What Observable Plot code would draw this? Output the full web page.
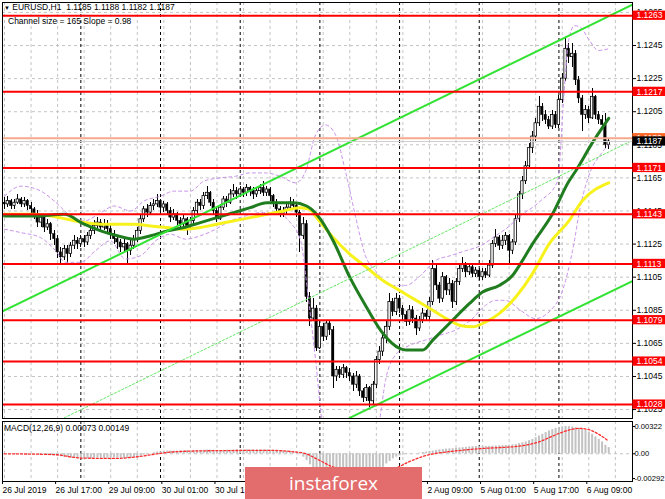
<!DOCTYPE html>
<html><head><meta charset="utf-8">
<script src="https://cdn.jsdelivr.net/npm/d3@7"></script>
<script src="https://cdn.jsdelivr.net/npm/@observablehq/plot@0.6"></script>
<style>
body{margin:0;background:#fff;}
#wrap{position:relative;width:665px;height:499px;overflow:hidden;background:#fff;font-family:"Liberation Sans",Arial,sans-serif;}
#wrap svg{display:block;max-width:none !important;}
.lbl{position:absolute;font-size:8.5px;color:#000;white-space:nowrap;line-height:10px;}
#wm{position:absolute;left:245px;top:467px;width:177px;height:34px;background:#e36c6c;color:#fff;font-family:"Open Sans",sans-serif;font-size:19px;text-align:center;line-height:32px;}
</style></head><body>
<div id="wrap">
<div id="mainBox" style="position:absolute;left:0;top:0;width:665px;height:420px;"></div>
<div id="macdBox" style="position:absolute;left:0;top:420px;width:665px;height:79px;"></div>
<div class="lbl" style="left:4px;top:2px;"><span style="font-size:6px;">&#9660;</span> EURUSD,H1&nbsp; 1.1185 1.1188 1.1182 1.1187</div>
<div class="lbl" style="left:8px;top:16px;">Channel size = 165 Slope = 0.98</div>
<div class="lbl" style="left:4px;top:423px;">MACD(12,26,9) 0.00073 0.00149</div>
<div id="wm">instaforex</div>
</div>
<script>
// ---- candle data (pips: price = 1.1 + v/10000), bar index 0 = 26 Jul 01:00 ----
const OPEN0 = 150;
const closeP = [149,151,148,150,152,149,151,148,146,143, 138,141,135,137,131,128,120,117,122,119, 124,127,125,128,126,130,133,136,138,135, 137,134,131,128,126,123,125,121,124,128, 133,140,146,144,148,149,151,147,149,145, 141,143,139,137,140,136,139,145,150,148, 154,156,150,145,140,147,152,150,155,157, 155,158,156,159,157,155,157,159,156,158, 154,150,146,143,145,147,150,148,144,130, 137,93,80,86,62,75,69,77,73,45, 49,46,50,47,45,40,45,36,32,38, 30,40,55,60,68,75,90,84,92,86, 82,78,85,80,74,79,83,81,90,110, 100,92,105,97,101,90,102,110,113,108, 111,107,109,105,108,106,112,125,129,124, 127,130,121,126,140,155,163,172,183,190, 198,208,203,200,196,203,197,212,225,243, 238,240,224,213,203,206,201,214,203,200, 197,185,187];
const highP = [153,154,152,152,155,153,153,152,150,147, 145,143,142,140,138,133,130,123,124,124, 126,130,129,130,130,132,135,139,141,140, 140,139,136,133,130,128,128,126,127,130, 135,142,148,149,150,152,155,152,151,150, 147,146,144,141,142,141,141,147,152,152, 156,160,157,152,147,149,154,154,158,161, 159,160,159,161,160,159,159,161,163,160, 159,155,152,148,147,149,153,152,150,145, 141,139,96,92,88,79,77,79,79,75, 51,51,52,51,50,47,48,46,38,40, 39,42,57,63,71,78,95,92,95,94, 88,84,88,87,82,81,86,85,93,115, 112,102,108,106,104,103,104,113,117,114, 113,112,111,110,110,110,115,127,134,130, 130,132,131,128,142,157,166,175,186,193, 201,214,210,206,202,206,205,215,228,250, 246,246,242,226,215,209,208,219,215,205, 203,204,188];
const lowP = [146,147,146,146,149,147,147,145,143,140, 135,135,132,133,127,124,116,112,115,113, 117,122,122,123,123,124,128,131,134,132, 133,131,128,125,122,120,120,113,118,122, 126,131,138,141,142,145,147,144,144,142, 138,139,136,134,135,130,133,137,143,145, 146,152,148,142,138,139,145,147,149,153, 152,153,153,154,154,152,153,155,154,154, 151,147,144,141,141,143,145,146,141,120, 128,90,75,78,60,61,66,67,70,38, 42,44,44,44,42,36,38,33,29,30, 26,28,38,52,57,65,73,81,82,83, 79,75,76,77,70,72,77,78,79,88, 97,89,90,94,94,86,88,100,108,105, 106,105,105,103,103,104,105,110,123,121, 122,124,112,119,124,138,152,161,170,180, 187,196,199,197,194,194,195,195,210,223, 234,232,221,210,193,200,198,200,200,197, 194,183,182];

// ---- indicator lines: [bar index, price] ----
const greenMA = [[0,1.1142],[9,1.1142],[18,1.1143],[24,1.1137],[29,1.1133],[34,1.1130],[39,1.1128],[44,1.1130],[49,1.1133],[54,1.1135],[59,1.1138],[64,1.1141],[69,1.1144],[74,1.1147],[79,1.1150],[84,1.1150],[87,1.1150],[91,1.1148],[94,1.1143],[99,1.1127],[104,1.1105],[109,1.1087],[114,1.1071],[119,1.1062],[121,1.1061],[126,1.1061],[129,1.1067],[134,1.1077],[140,1.1089],[144,1.1096],[149,1.1100],[153,1.1106],[156,1.1115],[159,1.1125],[165,1.1143],[170,1.1163],[172,1.1169],[177,1.1186],[182,1.1201]];
const yellowMA = [[0,1.1143],[9,1.1143],[14,1.1142],[19,1.1140],[24,1.1138],[29,1.1137],[34,1.1137],[39,1.1137],[44,1.1136],[49,1.1135],[54,1.1134],[59,1.1135],[64,1.1137],[69,1.1139],[74,1.1141],[79,1.1143],[84,1.1145],[89,1.1147],[92,1.1146],[94,1.1141],[99,1.1129],[104,1.1119],[109,1.1111],[114,1.1103],[119,1.1097],[124,1.1091],[129,1.1085],[134,1.1079],[137,1.1076],[141,1.1075],[145,1.1078],[149,1.1083],[154,1.1093],[159,1.1107],[164,1.1125],[170,1.1139],[174,1.1151],[182,1.1162]];
const bandUpper = [[0,1.1154],[5,1.1160],[11,1.1157],[15,1.1151],[20,1.1142],[24,1.1139],[29,1.1144],[33,1.1148],[38,1.1145],[42,1.1151],[47,1.1154],[51,1.1157],[56,1.1157],[60,1.1163],[65,1.1165],[69.6,1.1166],[74,1.1168],[78.6,1.1168],[83,1.1166],[87.7,1.1162],[90.7,1.1169],[93.7,1.1191],[96.7,1.1197],[99.7,1.1191],[102.7,1.1169],[105.7,1.1142],[108.7,1.1118],[111.7,1.1109],[116.3,1.1100],[120.8,1.1100],[125.3,1.1106],[129.8,1.1115],[134.3,1.1118],[138.9,1.1121],[143.4,1.1124],[147.9,1.1130],[150.9,1.1134],[155.4,1.1142],[161.4,1.1151],[166.6,1.1163],[168.4,1.1212],[169.9,1.1248],[171.7,1.1257],[173.5,1.1256],[175.9,1.1249],[178.9,1.1242],[181.9,1.1243]];
const bandLower = [[0,1.1134],[4.8,1.1132],[10.8,1.1129],[15.4,1.1121],[18.4,1.1114],[22.9,1.1114],[27.4,1.1121],[31.9,1.1127],[36.4,1.1116],[41,1.1118],[45.5,1.1127],[50,1.1131],[54.5,1.1128],[59,1.1130],[63.6,1.1134],[68.1,1.1139],[72.6,1.1142],[77.1,1.1144],[81.6,1.1144],[86.1,1.1138],[89.2,1.1127],[91.6,1.1091],[93.7,1.1055],[95.8,1.1015],[99.7,1.0988],[104.2,1.0982],[108.7,1.0994],[112.7,1.1015],[114.8,1.1043],[117.8,1.1058],[122.3,1.1064],[126.8,1.1067],[131.3,1.1070],[135.8,1.1073],[140.4,1.1079],[144.9,1.1088],[147.9,1.1091],[150.9,1.1091],[155.4,1.1085],[159.9,1.1080],[164.5,1.1085],[168.1,1.1097],[171.1,1.1121],[173.5,1.1148],[176.5,1.1169],[179.5,1.1179],[181.9,1.1185]];
const channelUpper = [[-1,1.1084],[189.5,1.1270]];
const channelMid = [[18,1.1020],[189.5,1.1188]];
const channelLower = [[104,1.1020],[189.5,1.1103]];

// ---- levels & ticks ----
const levels = [1.1263,1.1217,1.1171,1.1143,1.1113,1.1079,1.1054,1.1028];
const resistLine = 1.1189;
const bidPrice = 1.1187;
const priceTicks = [1.1025,1.1045,1.1065,1.1085,1.1105,1.1125,1.1145,1.1165,1.1185,1.1205,1.1225,1.1245,1.1265];
const timeLabels = ["26 Jul 2019","26 Jul 17:00","29 Jul 09:00","30 Jul 01:00","30 Jul 17:00","31 Jul 09:00","1 Aug 01:00","1 Aug 17:00","2 Aug 09:00","5 Aug 01:00","5 Aug 17:00","6 Aug 09:00"];

// ---- MACD histogram (x 1e-4) per bar, signal points ----
const macdHist = [0,0,0,0.2,0.2,0,0,-0.2,-0.2,-0.3,-0.5,-0.8,-1,-1.5,-2,-2.5,
 -3,-3.5,-4,-4.5,-5,-5.5,-5.8,-6,-6,-5.8,-5.5,-5.3,-5,-5.2,-5.5,-5.2,
 -5,-4.8,-5,-5.2,-5.5,-5.5,-5,-4.5,-3.5,-2.5,-1.5,-0.5,0.5,1.2,2,2.5,
 3,3.2,3.3,3.2,3,3.2,3.5,3.5,3.3,3.5,3.8,4,4.2,4.3,4.2,4,
 3.8,3.8,4,4.2,4.3,4.5,4.5,4.4,4.5,4.6,4.5,4.5,4.4,4.5,4.6,4.5,
 4.3,4,3.8,3.5,3.3,3.2,3,2.8,1.5,-1,-4,-8,
 -13,-17,-20,-22,-24,-25,-26,-27,-28,-28.5,-29,-29.2,-29,-28.5,-28,-27.5,
 -27,-26,-25,-24,-22,-19,-16,-12,-9,-6,-4,-2.5,-1.5,-1,-0.5,0,
 0.3,0.8,1.5,2,2.5,3.2,4,4.5,5,5.5,5.8,6,6.3,6.8,7.2,7.5,
 8,8.3,8.5,8.5,8.6,8.7,8.8,9,9.2,9.4,9.6,9.8,10,10.5,11,12,
 13,14,15.5,17,19,21,23,25,27,28.5,30,31,31.8,32.2,32,31.5,
 30.8,30,29,27.5,25.5,23,20,17,14,10,7.3];
const macdSignal = [[0,0],[15,-1],[23,-5],[33,-5.5],[40,-3.5],[46,0],[50,2],[60,3.5],[80,4],[88,2],[90,1],[92,-2],[94,-6],[96,-10],[98,-14],[100,-17],[103,-21],[106,-24],[109,-25.5],[112,-25],[115,-22],[118,-17],[121,-11],[124,-6],[127,-2],[130,0.5],[135,3],[140,5],[145,6.5],[150,7.5],[155,9],[158,11],[161,14],[164,19],[167,24],[170,28],[173,30],[176,28.5],[179,23],[182,14.9]];
const macdTicks = [0.00322, 0, -0.00292];

// ---- build ----
const px = v => 1.1 + v / 10000;
const bars = closeP.map((c, i) => {
  const o = px(i === 0 ? OPEN0 : closeP[i - 1]), cl = px(c);
  return {i, open: o, close: cl, high: Math.max(px(highP[i]), o, cl), low: Math.min(px(lowP[i]), o, cl)};
});
const bulls = bars.filter(d => d.close >= d.open);
const bears = bars.filter(d => d.close < d.open);
const X0 = -0.6, X1 = 189.16;
const gridIdx = d3.range(0, 189, 8);
const sepIdx = d3.range(23, 189, 24);
const labelIdx = d3.range(0, 177, 16);
const font = {fontFamily: "'Liberation Sans', Arial, sans-serif", fontSize: "8.5px", color: "#000", background: "transparent", maxWidth: "none"};
const H = 0.00028;
const xy = {x: d => d[0], y: d => d[1]};

const main = Plot.plot({
  width: 665, height: 420, marginLeft: 2, marginRight: 33, marginTop: 2, marginBottom: 2,
  x: {domain: [X0, X1], axis: null},
  y: {domain: [1.10196, 1.12710], axis: null},
  style: font,
  marks: [
    Plot.ruleY(priceTicks, {stroke: "#c4c4c4", strokeDasharray: "3,3"}),
    Plot.ruleX(gridIdx, {stroke: "#c4c4c4", strokeDasharray: "3,3"}),
    Plot.ruleX(sepIdx, {stroke: "#000", strokeDasharray: "3,3"}),
    Plot.ruleX(bars, {x: "i", y1: "low", y2: "high", stroke: "#000", shapeRendering: "crispEdges"}),
    Plot.rect(bulls, {x1: d => d.i - 0.36, x2: d => d.i + 0.36, y1: "open", y2: "close", fill: "#fff", stroke: "#000", strokeWidth: 0.8}),
    Plot.rect(bears, {x1: d => d.i - 0.36, x2: d => d.i + 0.36, y1: "open", y2: "close", fill: "#000", stroke: "#000", strokeWidth: 0.5}),
    Plot.line(bandUpper, {...xy, stroke: "#c890ea", strokeWidth: 1, strokeDasharray: "3,3", curve: "monotone-x", clip: true}),
    Plot.line(bandLower, {...xy, stroke: "#c890ea", strokeWidth: 1, strokeDasharray: "3,3", curve: "monotone-x", clip: true}),
    Plot.line(yellowMA, {...xy, stroke: "#f8f21c", strokeWidth: 3, curve: "monotone-x"}),
    Plot.line(greenMA, {...xy, stroke: "#1f7d1f", strokeWidth: 3, curve: "monotone-x"}),
    Plot.line(channelUpper, {...xy, stroke: "#33e333", strokeWidth: 2, clip: true}),
    Plot.line(channelLower, {...xy, stroke: "#33e333", strokeWidth: 2, clip: true}),
    Plot.line(channelMid, {...xy, stroke: "#5fe85f", strokeWidth: 1, strokeDasharray: "2,2", clip: true}),
    Plot.ruleY(levels, {stroke: "#ff0000", strokeWidth: 2}),
    Plot.ruleY([resistLine], {stroke: "#f7a98c", strokeWidth: 2}),
    Plot.ruleY([bidPrice], {stroke: "#cfcfcf", strokeWidth: 1}),
    Plot.frame({stroke: "#000"}),
    Plot.axisY(priceTicks, {anchor: "right", tickSize: 3, tickPadding: 1, tickFormat: d => d.toFixed(4), label: null, fill: "#000"}),
    Plot.rect(levels, {x1: () => X1 + 0.1, x2: () => X1 + 12, y1: d => d - H, y2: d => d + H, fill: "#ff0000"}),
    Plot.text(levels, {x: () => X1, y: d => d, dx: 4, text: d => d.toFixed(4), fill: "#fff", textAnchor: "start"}),
    Plot.rect([resistLine], {x1: () => X1 + 0.1, x2: () => X1 + 12, y1: d => d - H, y2: d => d + H, fill: "#ff6a2a"}),
    Plot.text([resistLine], {x: () => X1, y: d => d, dx: 4, text: d => d.toFixed(4), fill: "#fff", textAnchor: "start"}),
    Plot.rect([bidPrice], {x1: () => X1 + 0.1, x2: () => X1 + 12, y1: d => d - H, y2: d => d + H, fill: "#000"}),
    Plot.text([bidPrice], {x: () => X1, y: d => d, dx: 4, text: d => d.toFixed(4), fill: "#fff", textAnchor: "start"})
  ]
});
document.getElementById("mainBox").appendChild(main);

const histData = macdHist.map((v, i) => ({i, v: v / 10000}));
const sigData = macdSignal.map(d => [d[0], d[1] / 10000]);
const macd = Plot.plot({
  width: 665, height: 79, marginLeft: 2, marginRight: 33, marginTop: 1, marginBottom: 18,
  x: {domain: [X0, X1], axis: null},
  y: {domain: [-0.00327, 0.00381], axis: null},
  style: font,
  marks: [
    Plot.ruleY([0], {stroke: "#c4c4c4", strokeDasharray: "3,3"}),
    Plot.ruleX(gridIdx, {stroke: "#c4c4c4", strokeDasharray: "3,3"}),
    Plot.ruleX(sepIdx, {stroke: "#000", strokeDasharray: "3,3"}),
    Plot.ruleX(histData, {x: "i", y1: () => 0, y2: "v", stroke: "#c2c2c2", strokeWidth: 2}),
    Plot.line(sigData, {...xy, stroke: "#ff2a2a", strokeWidth: 1.3, strokeDasharray: "2,2", curve: "monotone-x"}),
    Plot.frame({stroke: "#000"}),
    Plot.axisY(macdTicks, {anchor: "right", tickSize: 2, tickPadding: 0, fontSize: 7.6, tickFormat: d => d === 0 ? "0.00" : d.toFixed(5), label: null, fill: "#000"}),
    Plot.axisX(labelIdx, {anchor: "bottom", tickSize: 3, tickPadding: 2, tickFormat: d => timeLabels[labelIdx.indexOf(d)], textAnchor: "start", dx: -2, label: null, fill: "#000"})
  ]
});
document.getElementById("macdBox").appendChild(macd);
</script>
</body></html>
